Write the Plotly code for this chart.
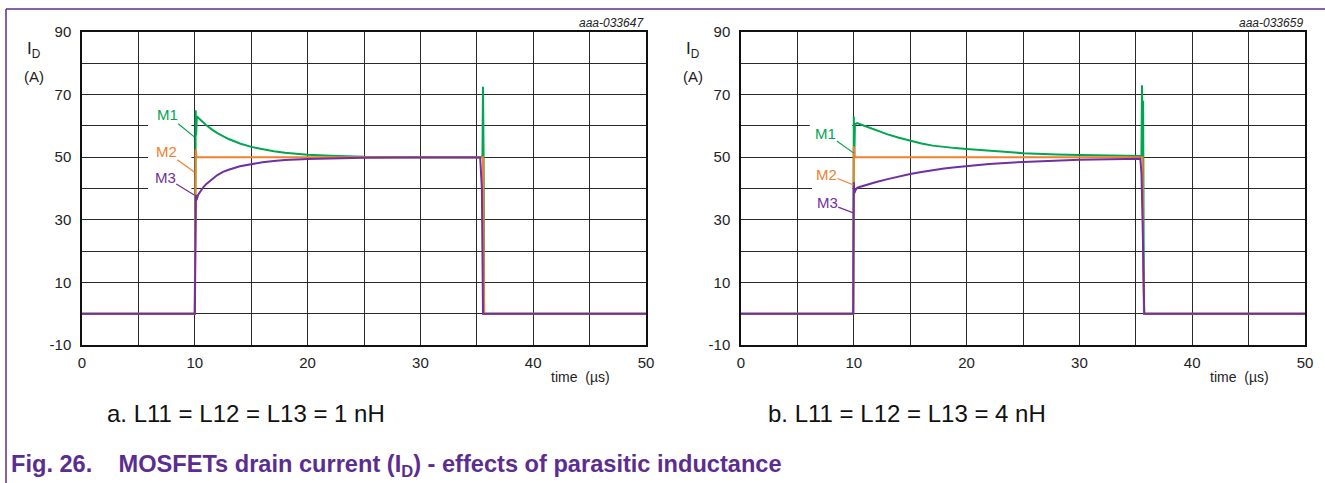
import plotly.graph_objects as go
from plotly.subplots import make_subplots

# ---------------- data ----------------
# Panel a: L11 = L12 = L13 = 1 nH
t_a_m1 = [0, 10.0, 10.08, 10.12, 10.18, 10.5, 11.0, 11.5, 12.0, 13.0, 14.0, 15.0, 16.0, 17.0, 18.0, 20.0, 22.0, 25.0, 30.0,
          35.4, 35.5, 35.55, 35.6, 35.65, 50]
i_a_m1 = [0, 0, 65.0, 57.0, 63.0, 61.9, 60.3, 58.9, 57.7, 55.8, 54.4, 53.3, 52.5, 51.9, 51.4, 50.8, 50.5, 50.15, 50.0,
          50.0, 50.5, 72.5, 52.0, 0, 0]
t_a_m2 = [0, 10.0, 10.08, 10.15, 35.45, 35.55, 35.65, 50]
i_a_m2 = [0, 0, 52.5, 50.0, 50.0, 50.0, 0, 0]
t_a_m3 = [0, 10.0, 10.1, 10.15, 10.3, 10.5, 10.75, 11.0, 11.5, 12.0, 12.5, 13.0, 14.0, 15.0, 16.0, 17.0, 18.0, 20.0,
          22.0, 25.0, 30.0, 35.3, 35.45, 35.55, 50]
i_a_m3 = [0, 0, 38.0, 36.3, 38.0, 39.2, 40.4, 41.4, 43.0, 44.3, 45.3, 46.0, 47.1, 47.8, 48.4, 48.8, 49.1, 49.4,
          49.6, 49.8, 49.9, 49.9, 40.0, 0, 0]

# Panel b: L11 = L12 = L13 = 4 nH
t_b_m1 = [0, 9.95, 10.0, 10.05, 10.1, 10.3, 10.5, 11.0, 12.0, 13.0, 14.0, 15.0, 16.0, 17.0, 18.0, 19.0, 20.0, 22.0,
          25.0, 28.0, 30.0, 35.4, 35.5, 35.55, 35.6, 35.65, 35.72, 50]
i_b_m1 = [0, 0, 63.0, 51.0, 60.5, 60.9, 60.6, 59.9, 58.5, 57.3, 56.2, 55.2, 54.4, 53.7, 53.2, 52.9, 52.6, 52.0,
          51.3, 50.9, 50.7, 50.4, 50.4, 73.0, 55.0, 68.0, 0, 0]
t_b_m2 = [0, 9.95, 10.0, 10.1, 35.5, 35.6, 35.65, 35.75, 50]
i_b_m2 = [0, 0, 53.5, 50.0, 50.0, 50.0, 15.0, 0, 0]
t_b_m3 = [0, 9.95, 10.0, 10.05, 10.15, 10.3, 10.5, 11.0, 12.0, 13.0, 14.0, 15.0, 16.0, 17.0, 18.0, 19.0, 20.0, 22.0,
          25.0, 28.0, 30.0, 35.4, 35.5, 35.6, 35.7, 35.75, 50]
i_b_m3 = [0, 0, 42.0, 38.5, 39.5, 40.2, 40.5, 41.1, 42.1, 43.0, 43.9, 44.6, 45.3, 45.9, 46.4, 46.8, 47.2, 47.8,
          48.5, 49.0, 49.2, 49.5, 45.0, 30.0, 10.0, 0, 0]

series_names = ["M1", "M2", "M3"]
x_ticks = [0, 10, 20, 30, 40, 50]
y_ticks = [-10, 10, 30, 50, 70, 90]
captions = ["a. L11 = L12 = L13 = 1 nH", "b. L11 = L12 = L13 = 4 nH"]
codes = ["aaa-033647", "aaa-033659"]
title_text = "Fig. 26.&nbsp;&nbsp;&nbsp; MOSFETs drain current (I<sub>D</sub>) - effects of parasitic inductance"

# ---------------- styling ----------------
C_M1 = "#00a651"
C_M2 = "#f0802d"
C_M3 = "#7030a0"
C_TITLE = "#5c2d91"
FONT = "Liberation Sans, Arial, sans-serif"
GRID = "#2a2a2a"

W, H = 1325, 483
ML, MR, MT, MB = 82, 20, 32, 138
PW = W - ML - MR
PH = H - MT - MB


def px(xp):
    return (xp - ML) / PW


def py(yp):
    return (MT + PH - yp) / PH


fig = make_subplots(rows=1, cols=2)
fig.update_layout(
    xaxis=dict(domain=[0, 564 / PW]),
    xaxis2=dict(domain=[659 / PW, 1]),
)

panels = [
    (1, [(t_a_m1, i_a_m1, C_M1), (t_a_m2, i_a_m2, C_M2), (t_a_m3, i_a_m3, C_M3)]),
    (2, [(t_b_m1, i_b_m1, C_M1), (t_b_m2, i_b_m2, C_M2), (t_b_m3, i_b_m3, C_M3)]),
]
for col, data in panels:
    for name, (t, i, c) in zip(series_names, data):
        fig.add_trace(go.Scatter(x=t, y=i, mode="lines", name=name,
                                 line=dict(color=c, width=2), showlegend=False,
                                 hoverinfo="skip"), row=1, col=col)

for col in (1, 2):
    fig.update_xaxes(range=[0, 50], tickmode="array", tickvals=x_ticks,
                     ticktext=[str(v) for v in x_ticks],
                     showgrid=True, gridcolor=GRID, gridwidth=1,
                     minor=dict(dtick=5, tick0=0, showgrid=True, gridcolor=GRID, gridwidth=1),
                     showline=True, linecolor="#111", linewidth=1.5, mirror=True,
                     ticks="", zeroline=False, ticklabelstandoff=3,
                     tickfont=dict(family=FONT, size=15, color="#222"),
                     row=1, col=col)
    fig.update_yaxes(range=[-10, 90], tickmode="array", tickvals=y_ticks,
                     ticktext=[str(v) for v in y_ticks],
                     showgrid=True, gridcolor=GRID, gridwidth=1,
                     minor=dict(dtick=10, tick0=-10, showgrid=True, gridcolor=GRID, gridwidth=1),
                     showline=True, linecolor="#111", linewidth=1.5, mirror=True,
                     ticks="", zeroline=False, ticklabelstandoff=6,
                     tickfont=dict(family=FONT, size=15, color="#222"),
                     row=1, col=col)

# white patches behind the M labels (between grid and traces)
patches = [
    ("x", "y", 5.85, 9.7, 37.0, 68.5),
    ("x2", "y2", 6.1, 9.85, 54.0, 64.5),
    ("x2", "y2", 6.3, 9.85, 32.5, 48.0),
]
for xr, yr, x0, x1, y0, y1 in patches:
    fig.add_shape(type="rect", xref=xr, yref=yr, x0=x0, x1=x1, y0=y0, y1=y1,
                  fillcolor="white", line=dict(width=0), layer="between")

# M labels with leader lines
labels = [
    ("x", "y", 9.95, 56.5, -27, -22, "M1", C_M1),
    ("x", "y", 9.95, 45.3, -28, -20, "M2", C_M2),
    ("x", "y", 9.95, 37.9, -29, -18, "M3", C_M3),
    ("x2", "y2", 10.0, 51.3, -28, -20, "M1", C_M1),
    ("x2", "y2", 9.98, 41.1, -27, -11, "M2", C_M2),
    ("x2", "y2", 9.95, 32.2, -26, -10, "M3", C_M3),
]
for xr, yr, x, y, ax, ay, txt, c in labels:
    fig.add_annotation(xref=xr, yref=yr, x=x, y=y, ax=ax, ay=ay, text=txt,
                       showarrow=True, arrowhead=0, arrowwidth=1.2, arrowcolor=c,
                       standoff=0, borderpad=0,
                       font=dict(family=FONT, size=15, color=c))

for off, code in [(0, codes[0]), (659, codes[1])]:
    # axis title I_D (A)
    fig.add_annotation(xref="paper", yref="paper", x=px(34 + off), y=py(50),
                       xanchor="center", yanchor="middle",
                       text="I<sub>D</sub>", showarrow=False,
                       font=dict(family=FONT, size=17, color="#222"))
    fig.add_annotation(xref="paper", yref="paper", x=px(34 + off), y=py(76),
                       xanchor="center", yanchor="middle",
                       text="(A)", showarrow=False,
                       font=dict(family=FONT, size=15, color="#222"))
    # figure code
    fig.add_annotation(xref="paper", yref="paper", x=px(646 + off), y=py(23),
                       xanchor="right", yanchor="middle",
                       text="<i>" + code + "</i>", showarrow=False,
                       font=dict(family=FONT, size=12, color="#222"))
    # x-axis title
    fig.add_annotation(xref="paper", yref="paper", x=px(612 + off), y=py(377),
                       xanchor="right", yanchor="middle", text="time&nbsp;&nbsp;(µs)",
                       showarrow=False, font=dict(family=FONT, size=14, color="#222"))

# captions
for cx, cap in zip([246, 907], captions):
    fig.add_annotation(xref="paper", yref="paper", x=px(cx), y=py(413),
                       xanchor="center", yanchor="middle", text=cap, showarrow=False,
                       font=dict(family=FONT, size=24, color="#111"))

# figure title
fig.add_annotation(xref="paper", yref="paper", x=px(9), y=py(466),
                   xanchor="left", yanchor="middle", text="<b>" + title_text + "</b>",
                   showarrow=False, font=dict(family=FONT, size=23.6, color=C_TITLE))

# purple frame (top and left)
fig.add_shape(type="line", xref="paper", yref="paper", x0=px(6), x1=px(W), y0=py(9), y1=py(9),
              line=dict(color=C_TITLE, width=1.5))
fig.add_shape(type="line", xref="paper", yref="paper", x0=px(6), x1=px(6), y0=py(9), y1=py(H),
              line=dict(color=C_TITLE, width=1.5))

fig.update_layout(width=W, height=H, margin=dict(l=ML, r=MR, t=MT, b=MB),
                  paper_bgcolor="white", plot_bgcolor="white",
                  font=dict(family=FONT, color="#222"))

fig.write_html("out.html")
